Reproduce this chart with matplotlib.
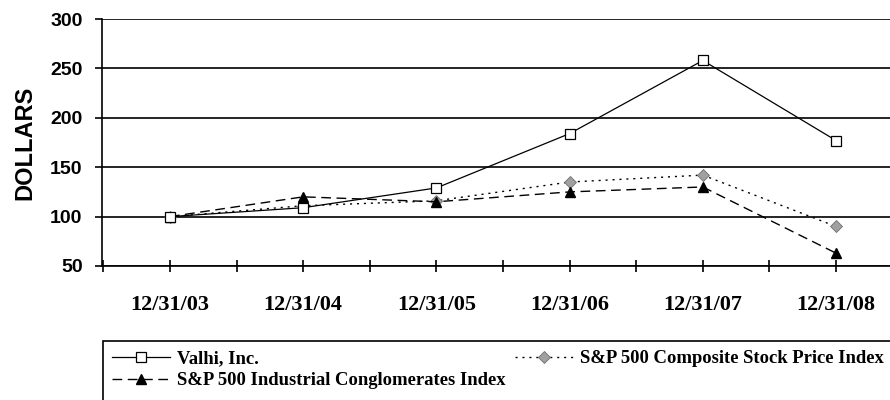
import matplotlib
matplotlib.use("Agg")
import matplotlib.pyplot as plt
from matplotlib.patches import Rectangle
from matplotlib.ticker import FixedLocator

dates = ['12/31/03', '12/31/04', '12/31/05', '12/31/06', '12/31/07', '12/31/08']
valhi = [100, 109, 129, 184, 258, 177]
sp500 = [100, 111, 116, 135, 142, 90]
conglomerates = [100, 120, 115, 125, 130, 63]
yticks = [50, 100, 150, 200, 250, 300]

fig = plt.figure(figsize=(8.9, 4.0), dpi=100)
ax = fig.add_axes([102 / 890, 1 - 266 / 400, 1 - 102 / 890, (266 - 19) / 400])

x = list(range(len(dates)))
l1, = ax.plot(x, valhi, color='black', lw=0.9, marker='s', ms=6.5,
              mfc='white', mec='black', mew=0.9, label='Valhi, Inc.', zorder=4)
l2, = ax.plot(x, sp500, color='black', lw=1.0, ls=(0, (1.5, 3.5)), marker='D', ms=6,
              mfc='#a0a0a0', mec='#707070', mew=0.6,
              label='S&P 500 Composite Stock Price Index', zorder=3)
l3, = ax.plot(x, conglomerates, color='black', lw=1.0, ls=(0, (7, 4)), marker='^', ms=7,
              mfc='black', mec='black', label='S&P 500 Industrial Conglomerates Index', zorder=3)

ax.set_xlim(-0.51, 5.405)
ax.set_ylim(50, 300)
ax.set_yticks(yticks)
ax.set_xticks(x)
ax.set_xticklabels(dates)
ax.xaxis.set_minor_locator(FixedLocator([i + 0.5 for i in range(-1, 6)]))

ax.grid(axis='y', color='black', lw=1.2)
ax.set_axisbelow(True)
for side in ['top', 'right']:
    ax.spines[side].set_visible(False)
ax.spines['left'].set_linewidth(1.2)
ax.spines['bottom'].set_linewidth(1.2)

ax.tick_params(axis='y', direction='out', length=5, width=1.2, pad=9)
ax.tick_params(axis='x', which='both', direction='inout', length=8, width=1.2, pad=17)
for lab in ax.get_yticklabels():
    lab.set_fontfamily('Liberation Sans')
    lab.set_fontweight('bold')
    lab.set_fontsize(14)
for lab in ax.get_xticklabels():
    lab.set_fontfamily('Liberation Serif')
    lab.set_fontweight('bold')
    lab.set_fontsize(16)

ax.set_ylabel('DOLLARS', fontfamily='Liberation Sans', fontweight='bold', fontsize=17, labelpad=10)

# legend box runs off the right and bottom edges, as in the source
fig.patches.append(Rectangle((103 / 890, -0.1), 1.0, 1.1 - 341 / 400, transform=fig.transFigure,
                             fill=False, edgecolor='black', lw=1.2))
leg = fig.legend(handles=[l1, l3, l2], ncol=2, loc='upper left',
                 bbox_to_anchor=(103 / 890, 1 - 341 / 400),
                 borderaxespad=0, numpoints=1, handlelength=3.1, handletextpad=0.35,
                 columnspacing=0.55, frameon=False, labelspacing=0.25, borderpad=0.5,
                 prop={'family': 'Liberation Serif', 'weight': 'bold', 'size': 13.4})

fig.savefig('out.png', dpi=100)
